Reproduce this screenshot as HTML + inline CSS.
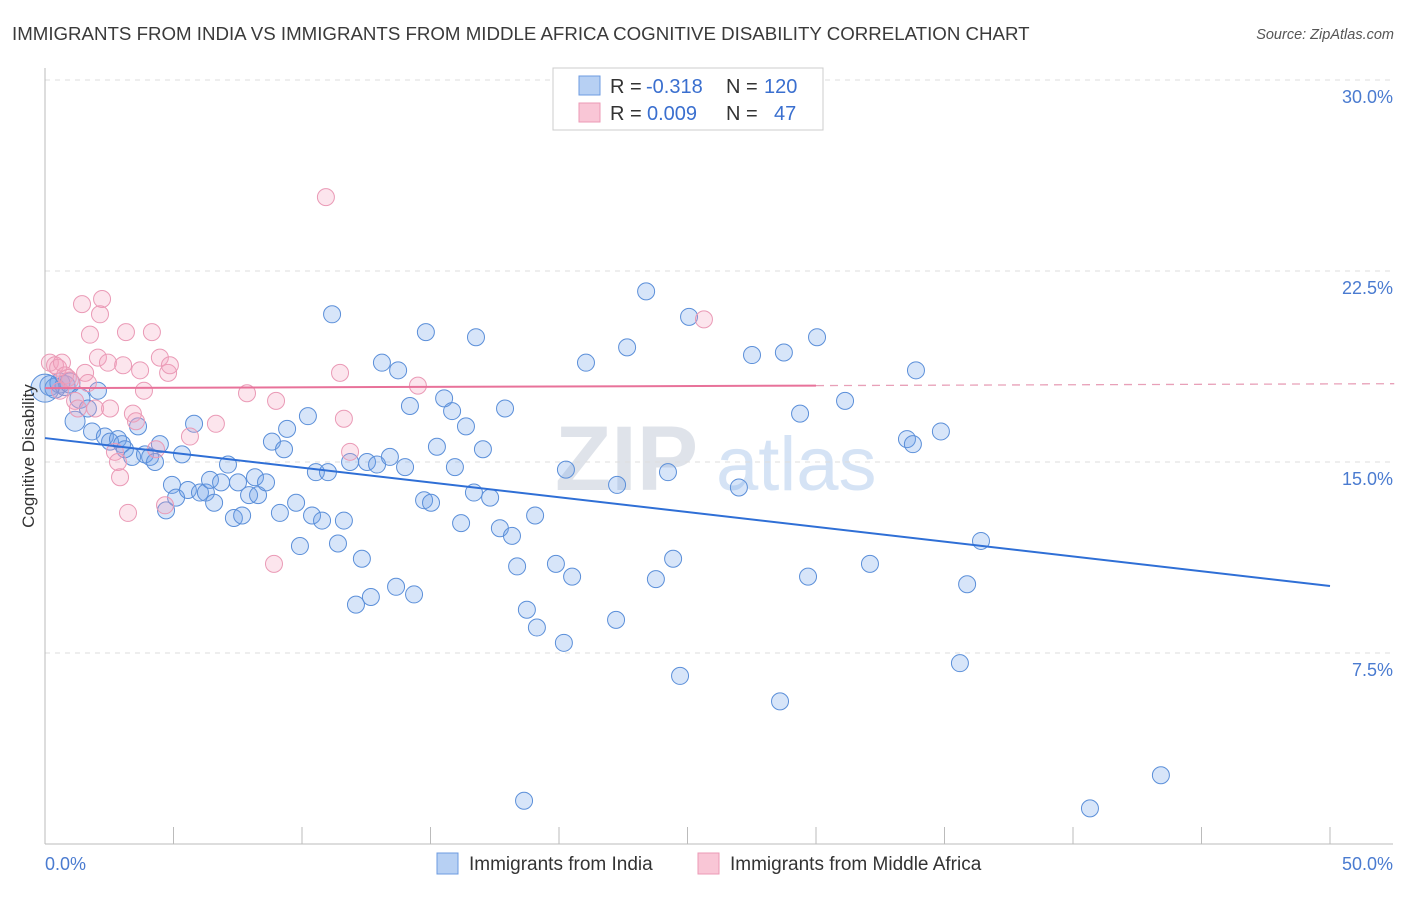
<!DOCTYPE html>
<html><head><meta charset="utf-8">
<style>
body{margin:0;background:#fff;font-family:"Liberation Sans",sans-serif;}
svg text{font-family:"Liberation Sans",sans-serif;}
</style></head>
<body>
<svg id="chart" width="1406" height="892" xmlns="http://www.w3.org/2000/svg">
<text x="12" y="40" font-size="18.7" fill="#3a3a3a">IMMIGRANTS FROM INDIA VS IMMIGRANTS FROM MIDDLE AFRICA COGNITIVE DISABILITY CORRELATION CHART</text>
<text x="1394" y="39" font-size="14.5" fill="#555" font-style="italic" text-anchor="end">Source: ZipAtlas.com</text>
<g>
<text x="555" y="490" font-size="92" fill="#dfe3ea" font-family="Liberation Serif" font-weight="bold">ZIP</text>
<text x="716" y="490" font-size="76" fill="#d5e3f5">atlas</text>
</g>
<g id="grid"></g><g id="axes"></g><g id="marks"></g><g id="trends"></g>
<text transform="translate(34,456) rotate(-90)" font-size="17" fill="#333" text-anchor="middle">Cognitive Disability</text>
<g>
<rect x="553" y="68" width="270" height="62" fill="#fff" stroke="#ccc"/>
<rect x="579" y="76" width="21" height="19" fill="#b7d0f3" stroke="#6c9be0"/>
<rect x="579" y="103" width="21" height="19" fill="#f9c6d6" stroke="#ec9ab6"/>
<text x="610" y="93" font-size="20" fill="#333">R =</text>
<text x="646" y="93" font-size="20" fill="#3a6fcf">-0.318</text>
<text x="726" y="93" font-size="20" fill="#333">N =</text>
<text x="764" y="93" font-size="20" fill="#3a6fcf">120</text>
<text x="610" y="120" font-size="20" fill="#333">R =</text>
<text x="647" y="120" font-size="20" fill="#3a6fcf">0.009</text>
<text x="726" y="120" font-size="20" fill="#333">N =</text>
<text x="774" y="120" font-size="20" fill="#3a6fcf">47</text>
</g>
<g>
<rect x="437" y="853" width="21" height="21" fill="#b7d0f3" stroke="#6c9be0"/>
<text x="469" y="870" font-size="19" fill="#333">Immigrants from India</text>
<rect x="698" y="853" width="21" height="21" fill="#f9c6d6" stroke="#ec9ab6"/>
<text x="730" y="870" font-size="19" fill="#333">Immigrants from Middle Africa</text>
</g>
</svg>
<script>
const yTicks=[7.5,15,22.5,30];
const yTickLabels=["7.5%","15.0%","22.5%","30.0%"];
const xTickCount=10;
const blueX=[0.19,0.39,0.58,0.78,0.97,1.17,1.36,1.67,1.83,2.06,2.33,2.53,2.84,3.0,3.11,3.39,3.62,3.89,4.09,4.28,4.47,4.71,4.94,5.10,5.33,5.56,5.80,6.03,6.26,6.42,6.58,6.85,7.12,7.35,7.51,7.67,7.94,8.17,8.29,8.6,8.83,9.14,9.30,9.42,9.77,9.92,10.23,10.39,10.54,10.78,11.01,11.17,11.4,11.63,11.87,12.1,12.33,12.53,12.68,12.92,13.11,13.42,13.66,13.74,14.01,14.2,14.36,14.75,14.82,15.02,15.25,15.53,15.84,15.95,16.19,16.38,16.69,16.77,17.04,17.32,17.7,17.9,18.17,18.37,18.75,19.07,19.14,19.88,20.19,20.51,21.05,22.22,22.26,22.65,23.39,23.77,24.24,24.44,24.71,25.06,27.0,27.51,28.6,28.75,29.38,29.69,30.04,31.13,32.1,33.54,33.77,33.89,34.86,35.6,35.88,36.42,40.66,43.42,18.64,20.27,0];
const blueY=[18.0,17.9,18.1,18.0,18.1,16.6,17.5,17.1,16.2,17.8,16.0,15.8,15.9,15.7,15.5,15.2,16.4,15.3,15.2,15.0,15.7,13.1,14.1,13.6,15.3,13.9,16.5,13.8,13.8,14.3,13.4,14.2,14.9,12.8,14.2,12.9,13.7,14.4,13.7,14.2,15.8,13.0,15.5,16.3,13.4,11.7,16.8,12.9,14.6,12.7,14.6,20.8,11.8,12.7,15.0,9.4,11.2,15.0,9.7,14.9,18.9,15.2,10.1,18.6,14.8,17.2,9.8,13.5,20.1,13.4,15.6,17.5,17.0,14.8,12.6,16.4,13.8,19.9,15.5,13.6,12.4,17.1,12.1,10.9,9.2,12.9,8.5,11.0,7.9,10.5,18.9,8.8,14.1,19.5,21.7,10.4,14.6,11.2,6.6,20.7,14.0,19.2,5.6,19.3,16.9,10.5,19.9,17.4,11.0,15.9,15.7,18.6,16.2,7.1,10.2,11.9,1.4,2.7,1.7,14.7,17.9];
const pinkX=[0.19,0.39,0.51,0.66,0.78,0.89,0.97,1.17,1.28,1.44,1.56,1.67,1.75,1.95,2.06,2.22,2.14,2.45,2.53,2.72,2.84,2.92,3.04,3.15,3.23,3.42,3.54,3.70,3.85,4.16,4.32,4.47,4.67,4.79,4.86,5.64,6.65,7.86,8.99,8.91,10.93,11.48,11.63,11.87,14.51,25.64,0.58];
const pinkY=[18.9,18.8,18.7,18.9,18.4,18.3,18.2,17.4,17.1,21.2,18.5,18.1,20.0,17.1,19.1,21.4,20.8,18.9,17.1,15.4,15.0,14.4,18.8,20.1,13.0,16.9,16.6,18.6,17.8,20.1,15.5,19.1,13.3,18.5,18.8,16.0,16.5,17.7,17.4,11.0,25.4,18.5,16.7,15.4,18.0,20.6,17.8];
const blueTrend=[15.94,10.13];
const pinkTrend=[17.9,18.0];
const X0=45,X1=1330,Y0=844,PX=(X1-X0)/50,PY=191/7.5;
const sx=v=>X0+v*PX, sy=v=>Y0-v*PY;
const NS="http://www.w3.org/2000/svg";
function mk(p,t,a){const e=document.createElementNS(NS,t);for(const k in a)e.setAttribute(k,a[k]);document.getElementById(p).appendChild(e);return e;}
yTicks.forEach((t,i)=>{
 const g=mk('grid','line',{x1:X0,x2:1393,y1:sy(t),y2:sy(t),stroke:'#ddd','stroke-dasharray':'5,5'});
 
 
 const l=mk('axes','text',{x:1393,y:sy(t)+23,'font-size':18,fill:'#4a7bd0','text-anchor':'end'});l.textContent=yTickLabels[i];
 
 
});
const ax=mk('axes','line',{x1:X0,x2:X0,y1:68,y2:Y0,stroke:'#bbb'});


const bx=mk('axes','line',{x1:X0,x2:1393,y1:Y0,y2:Y0,stroke:'#bbb'});


for(let i=0;i<=xTickCount;i++){const x=sx(i*50/xTickCount);const t=mk('axes','line',{x1:x,x2:x,y1:Y0-17,y2:Y0,stroke:'#bbb'});
 
 }
const xl0=mk('axes','text',{x:X0,y:870,'font-size':18,fill:'#4a7bd0'});xl0.textContent='0.0%';


const xl1=mk('axes','text',{x:1393,y:870,'font-size':18,fill:'#4a7bd0','text-anchor':'end'});xl1.textContent='50.0%';


blueX.forEach((v,i)=>{const r=v===0?14:(v<1.5?10:8.5);const c=mk('marks','circle',{cx:sx(v),cy:sy(blueY[i]),r:r,fill:'rgba(110,160,235,0.28)',stroke:'#5b8fd9','stroke-width':1});
 
 });
pinkX.forEach((v,i)=>{const c=mk('marks','circle',{cx:sx(v),cy:sy(pinkY[i]),r:8.5,fill:'rgba(245,160,190,0.28)',stroke:'#ea9ab6','stroke-width':1});
 
 });
const bt=mk('trends','line',{x1:sx(0),y1:sy(blueTrend[0]),x2:sx(50),y2:sy(blueTrend[1]),stroke:'#2f6fd6','stroke-width':2});


const pf=v=>pinkTrend[0]+(pinkTrend[1]-pinkTrend[0])*v/30;
const pt=mk('trends','line',{x1:sx(0),y1:sy(pf(0)),x2:sx(30),y2:sy(pf(30)),stroke:'#e8729a','stroke-width':2});


const pd=mk('trends','line',{x1:sx(30),y1:sy(pf(30)),x2:sx(52.5),y2:sy(pf(52.5)),stroke:'#e8a0b8','stroke-width':1.3,'stroke-dasharray':'8,6'});


</script>
</body></html>
